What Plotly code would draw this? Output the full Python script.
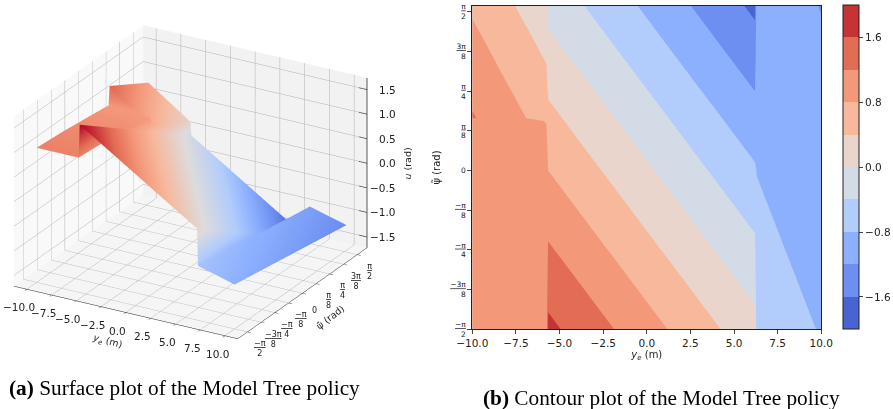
import plotly.graph_objects as go

# --- data ---
ye = [-10, -6.9, -5.75, -5.65, 6.2, 6.3, 10]
psi = [-1.5708, -0.7854, 0, 0.49, 0.52, 0.7854, 1.1781, 1.5708, 1.63]
u_rows = [
    [1.02, 1.02, 1.02, 1.695, 0.143, -0.613, -0.817],
    [0.97, 0.97, 0.97, 1.248, -0.304, -0.710, -0.913],
    [0.90, 0.90, 0.88, 0.800, -0.752, -0.807, -1.010],
    [0.85, 0.83, 0.795, 0.521, -1.031, -0.867, -1.070],
    [1.231, 0.797, 0.636, 0.504, -1.048, -0.871, -1.074],
    [1.114, 0.680, 0.519, 0.352, -1.200, -0.904, -1.107],
    [0.942, 0.508, 0.347, 0.128, -1.424, -0.952, -1.155],
    [0.769, 0.335, 0.174, -0.095, -1.647, -1.000, -1.203],
    [0.743, 0.309, 0.148, -0.129, -1.681, -1.007, -1.210],
]
psi_ticks = [-1.5708, -1.1781, -0.7854, -0.3927, 0, 0.3927, 0.7854, 1.1781, 1.5708]
psi_labels = ["<u>−π</u><br>2", "<u>−3π</u><br>8", "<u>−π</u><br>4", "<u>−π</u><br>8", "0",
              "<u>π</u><br>8", "<u>π</u><br>4", "<u>3π</u><br>8", "<u>π</u><br>2"]
ye_ticks = [-10, -7.5, -5, -2.5, 0, 2.5, 5, 7.5, 10]
ye_labels = ["−10.0", "−7.5", "−5.0", "−2.5", "0.0", "2.5", "5.0", "7.5", "10.0"]
u_ticks = [-1.5, -1, -0.5, 0, 0.5, 1, 1.5]
u_labels = ["−1.5", "−1.0", "−0.5", "0.0", "0.5", "1.0", "1.5"]
cbar_ticks = [-1.6, -0.8, 0, 0.8, 1.6]
cbar_labels = ["−1.6", "−0.8", "0.0", "0.8", "1.6"]

W, H = 893, 409
FONT = "DejaVu Sans"
band_colors = ["#4a63d3", "#6c8ff1", "#8db0fe", "#b2ccfb", "#d3dbe7",
               "#e9d5cb", "#f7b89c", "#f4987a", "#e36c55", "#c53334"]
stepped = []
for i, c in enumerate(band_colors):
    stepped += [[i / 10, c], [(i + 1) / 10, c]]
coolwarm = [[0, "#3b4cc0"], [0.15, "#6c8ff1"], [0.25, "#8db0fe"], [0.35, "#b2ccfb"], [0.5, "#dddcdc"],
            [0.65, "#f7b89c"], [0.75, "#f4987a"], [0.85, "#e36c55"], [1, "#b40426"]]

XR, YR, ZR = [-11.3, 11.3], [-1.85, 1.85], [-1.72, 1.74]

fig = go.Figure()
fig.add_trace(go.Surface(
    x=ye, y=psi, z=u_rows, colorscale=coolwarm, cmin=-1.69, cmax=1.70, showscale=False,
    lighting=dict(ambient=1, diffuse=0, specular=0, fresnel=0, roughness=1),
))
# vertical axis on the right-hand edge of the box, with its ticks
zx, zy, zz = [XR[1], XR[1]], [YR[1], YR[1]], [ZR[0], ZR[1]]
for v in u_ticks:
    zx += [None, XR[1] - 0.8, XR[1]]
    zy += [None, YR[1], YR[1]]
    zz += [None, v, v]
fig.add_trace(go.Scatter3d(x=zx, y=zy, z=zz, mode="lines", line=dict(color="#222", width=1.5),
                           showlegend=False, hoverinfo="skip"))
fig.add_trace(go.Contour(
    x=ye, y=psi, z=u_rows, xaxis="x", yaxis="y",
    colorscale=stepped, zmin=-2, zmax=2, autocontour=False,
    contours=dict(start=-2, end=2, size=0.4, coloring="fill", showlines=False),
    line=dict(width=0, smoothing=0),
    colorbar=dict(
        x=843.3 / W, xanchor="left", xref="paper", y=1 - 329.3 / H, yanchor="bottom", yref="paper",
        len=323.6 / H, lenmode="fraction", thickness=16.4, thicknessmode="pixels",
        tickmode="array", tickvals=cbar_ticks, ticktext=cbar_labels, ticks="outside", ticklen=4,
        tickfont=dict(family=FONT, size=10.5, color="#222"), outlinewidth=1, outlinecolor="#222", xpad=0, ypad=0,
    ),
))

ann = []
for v, t in zip(ye_ticks, ye_labels):
    ann.append(dict(x=v, y=YR[0], z=ZR[0], text=t, showarrow=False, xshift=-8, yshift=-18,
                    font=dict(family=FONT, size=10.5, color="#222")))
for v, t in zip(psi_ticks, psi_labels):
    ann.append(dict(x=XR[1], y=v, z=ZR[0], text=t, showarrow=False, xshift=12, yshift=-17,
                    font=dict(family=FONT, size=8, color="#222")))
for v, t in zip(u_ticks, u_labels):
    ann.append(dict(x=XR[1], y=YR[1], z=v, text=t, showarrow=False, xanchor="right", xshift=31, yshift=0,
                    font=dict(family=FONT, size=10.5, color="#222")))
ann.append(dict(x=0, y=YR[0], z=ZR[0], text="<i>y<sub>e</sub></i> (m)", showarrow=False, textangle=15,
                xshift=-19, yshift=-29, font=dict(family=FONT, size=9.5, color="#222")))
ann.append(dict(x=XR[1], y=0, z=ZR[0], text="ψ̃ (rad)", showarrow=False, textangle=-38,
                xshift=27, yshift=-24, font=dict(family=FONT, size=9.5, color="#222")))
ann.append(dict(x=XR[1], y=YR[1], z=0, text="<i>u</i> (rad)", showarrow=False, textangle=-90,
                xshift=40, yshift=0, font=dict(family=FONT, size=9.5, color="#222")))

def ax3(rng, tv, bg, line=True):
    return dict(range=rng, tickmode="array", tickvals=tv, showticklabels=False, title=dict(text=""),
                ticks="outside" if line else "", ticklen=4, tickcolor="#222",
                showgrid=True, gridcolor="#b0b0b0", gridwidth=1, zeroline=False,
                showline=line, linecolor="#222", linewidth=1,
                showbackground=True, backgroundcolor=bg, showspikes=False)

R = 1.29
SC = 1.42
fig.update_layout(
    width=W, height=H, margin=dict(l=0, r=0, t=0, b=0, autoexpand=False), paper_bgcolor="white", showlegend=False,
    scene=dict(
        domain=dict(x=[0, 0.427], y=[0.11, 1]),
        xaxis=ax3(XR, ye_ticks, "#f9f9f9"),
        yaxis=ax3(YR, psi_ticks, "#f2f2f2"),
        zaxis=ax3(ZR, u_ticks, "#f5f5f5", line=False),
        aspectmode="manual", aspectratio=dict(x=SC, y=SC, z=0.72 * SC),
        camera=dict(eye=dict(x=0.4568 * R, y=-0.791 * R, z=0.4067 * R), up=dict(x=0, y=0, z=1),
                    projection=dict(type="orthographic")),
        annotations=ann,
    ),
    xaxis=dict(domain=[472.3 / W, 821.3 / W], range=[-10, 10], tickmode="array", tickvals=ye_ticks, ticktext=ye_labels,
               ticks="outside", ticklen=4, showgrid=False, zeroline=False, showline=True, mirror=True,
               linecolor="#222", linewidth=1, tickfont=dict(family=FONT, size=10.5, color="#222"),
               title=dict(text="<i>y<sub>e</sub></i> (m)", font=dict(family=FONT, size=10, color="#222"), standoff=2)),
    yaxis=dict(domain=[1 - 329.3 / H, 1 - 5.7 / H], range=[-1.5708, 1.63], tickmode="array", tickvals=psi_ticks, ticktext=psi_labels,
               ticks="outside", ticklen=4, showgrid=False, zeroline=False, showline=True, mirror=True,
               linecolor="#222", linewidth=1, tickfont=dict(family=FONT, size=7.5, color="#222"),
               title=dict(text="ψ̃ (rad)", font=dict(family=FONT, size=10, color="#222"), standoff=7)),
    annotations=[
        dict(x=7 / W, y=1 - 388 / H, xref="paper", yref="paper", xanchor="left", yanchor="middle", showarrow=False,
             text="<b>(a)</b> Surface plot of the Model Tree policy",
             font=dict(family="Liberation Serif", size=21.3, color="black")),
        dict(x=481 / W, y=1 - 398 / H, xref="paper", yref="paper", xanchor="left", yanchor="middle", showarrow=False,
             text="<b>(b)</b> Contour plot of the Model Tree policy",
             font=dict(family="Liberation Serif", size=21.3, color="black")),
    ],
)
fig.write_html("out.html", config=dict(displayModeBar=False),
               post_script="document.body.style.margin='0';document.body.style.overflow='hidden';window.dispatchEvent(new Event('resize'));")
